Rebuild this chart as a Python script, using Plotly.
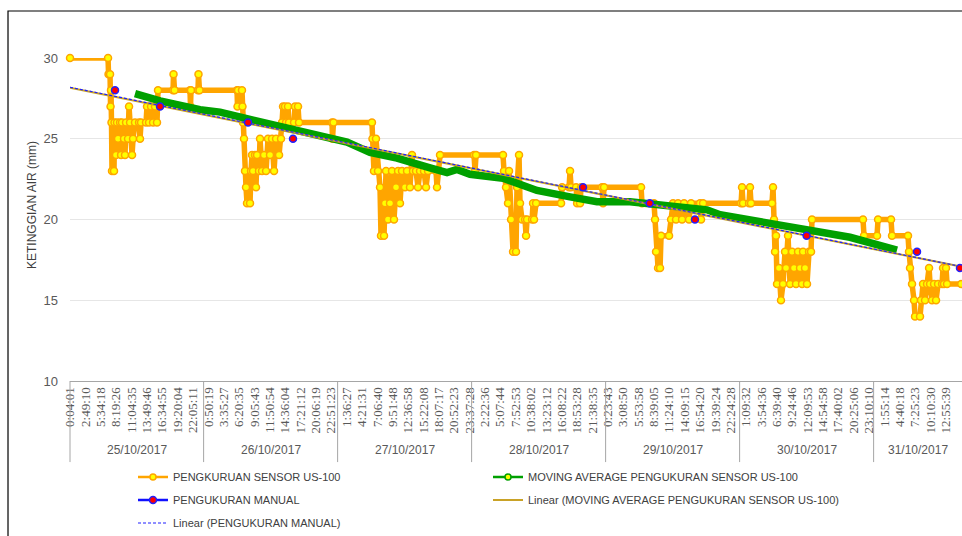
import plotly.graph_objects as go
import numpy as np

# ---------------- data ----------------
day_labels = ["25/10/2017", "26/10/2017", "27/10/2017", "28/10/2017",
              "29/10/2017", "30/10/2017", "31/10/2017"]

time_ticks = [
    ["0:04:01", "2:49:10", "5:34:18", "8:19:26", "11:04:35", "13:49:46", "16:34:55", "19:20:04", "22:05:11"],
    ["0:50:19", "3:35:27", "6:20:35", "9:05:43", "11:50:54", "14:36:04", "17:21:12", "20:06:19", "22:51:23"],
    ["1:36:27", "4:21:31", "7:06:40", "9:51:48", "12:36:58", "15:22:08", "18:07:17", "20:52:23", "23:37:28"],
    ["2:22:36", "5:07:44", "7:52:53", "10:38:02", "13:23:12", "16:08:22", "18:53:28", "21:38:35"],
    ["0:23:43", "3:08:50", "5:53:58", "8:39:05", "11:24:10", "14:09:15", "16:54:20", "19:39:24", "22:24:28"],
    ["1:09:32", "3:54:36", "6:39:40", "9:24:46", "12:09:53", "14:54:58", "17:40:02", "20:25:06", "23:10:10"],
    ["1:55:14", "4:40:18", "7:25:23", "10:10:30", "12:55:39"],
]

# hours since 25/10/2017 00:00
axis_start_h = 0.067
axis_end_h = 159.83

sensor_hours = [
    0.07, 6.88, 6.97, 7.24, 7.33, 7.41, 7.50, 7.59, 7.95, 8.04, 8.31, 8.49, 8.67, 9.03, 9.21, 9.38,
    9.74, 9.92, 10.10, 10.46, 10.64, 10.82, 11.18, 11.36, 11.71, 12.43, 12.61, 12.79, 13.68, 13.86,
    14.22, 14.58, 14.94, 15.29, 15.65, 15.83, 18.52, 18.61, 18.79, 21.56, 21.65, 21.74, 22.99, 23.08,
    23.26, 29.98, 30.07, 30.16, 30.87, 30.96, 31.05, 31.23, 31.41, 31.59, 31.77, 32.31, 32.49, 32.67,
    32.85, 33.20, 33.38, 33.56, 33.92, 34.10, 34.46, 34.82, 35.18, 35.53, 35.89, 36.25, 36.61, 36.97,
    37.51, 37.86, 38.04, 38.22, 38.58, 38.76, 39.11, 39.29, 40.19, 40.37, 40.91, 41.09, 47.00, 47.08,
    47.26, 54.15, 54.24, 54.51, 54.87, 55.23, 55.59, 55.77, 56.31, 56.49, 56.67, 57.02, 57.38, 57.74,
    58.10, 58.46, 58.82, 59.17, 59.53, 60.07, 60.43, 60.96, 61.32, 61.50, 62.04, 62.40, 62.76, 63.47,
    63.83, 64.19, 65.62, 65.80, 66.16, 66.34, 72.43, 72.61, 72.79, 77.62, 77.80, 78.16, 78.52, 78.70,
    79.06, 79.42, 79.95, 80.13, 80.49, 80.67, 81.03, 81.57, 81.75, 81.93, 82.83, 83.00, 83.18, 83.54,
    88.02, 88.20, 89.45, 89.63, 89.81, 90.71, 90.89, 91.42, 91.60, 95.36, 95.54, 95.72, 102.35, 102.52,
    104.67, 104.85, 105.03, 105.39, 105.75, 105.93, 107.36, 107.72, 108.08, 108.61, 108.97, 109.69,
    110.05, 110.94, 111.30, 112.91, 113.09, 113.45, 120.26, 120.43, 120.61, 121.69, 121.86, 122.04,
    125.80, 125.98, 126.16, 126.34, 126.52, 126.70, 127.05, 127.41, 127.77, 128.13, 128.31, 128.67,
    129.03, 129.39, 129.74, 130.10, 130.46, 130.82, 131.18, 131.36, 131.72, 132.07, 132.43, 132.79,
    132.96, 142.10, 142.28, 144.61, 144.79, 147.12, 147.30, 150.16, 150.34, 150.52, 150.88, 151.24,
    151.42, 152.31, 152.49, 152.85, 153.21, 153.57, 153.93, 154.11, 154.46, 154.82, 155.18, 155.54,
    156.26, 156.43, 156.61, 156.97, 157.15, 159.70,
]
sensor_level = [
    30, 30, 29, 29, 27, 28, 26, 23, 23, 26, 24, 26, 25, 26, 24, 26,
    25, 24, 26, 25, 27, 26, 24, 25, 26, 26, 25, 26, 26, 27,
    26, 27, 26, 27, 26, 28, 28, 29, 28, 28, 27, 28, 28, 29,
    28, 28, 27, 28, 28, 27, 26, 25, 23, 22, 21, 21, 23, 24,
    23, 24, 22, 24, 23, 25, 23, 24, 23, 25, 24, 25, 23, 25,
    24, 25, 26, 27, 27, 26, 27, 26, 26, 27, 27, 26, 26, 25,
    26, 26, 25, 23, 25, 23, 22, 19, 19, 21, 23, 20, 21, 23,
    20, 22, 23, 21, 23, 22, 23, 22, 24, 23, 23, 22, 23, 23,
    22, 23, 23, 22, 23, 24, 24, 23, 24, 24, 23, 22, 21, 23,
    20, 18, 18, 22, 24, 21, 20, 20, 19, 20, 20, 21, 20, 21,
    21, 22, 22, 23, 22, 22, 21, 21, 22, 22, 21, 22, 22, 21,
    21, 20, 18, 17, 17, 19, 19, 20, 21, 20, 21, 20,
    21, 20, 21, 21, 20, 21, 21, 22, 21, 21, 22, 21,
    21, 22, 20, 18, 19, 16, 17, 15, 16, 18, 17, 19,
    16, 18, 17, 16, 18, 17, 16, 18, 17, 16, 18, 18,
    20, 20, 19, 19, 20, 20, 19, 19, 18, 17, 16, 15,
    14, 14, 15, 16, 15, 16, 17, 16, 15, 16, 15, 16,
    16, 17, 16, 17, 16, 16,
]

ma_hours = [11.71, 16.19, 23.36, 26.94, 32.31, 38.22, 44.31, 49.68, 53.80, 58.64, 64.55, 67.59, 69.38,
            71.71, 77.62, 83.71, 89.63, 94.46, 100.37, 109.32, 114.16, 116.49, 124.19, 130.82, 139.77, 148.19]
ma_level = [27.8, 27.35, 26.8, 26.65, 26.2, 25.7, 25.2, 24.8, 24.15, 23.8, 23.2, 22.9, 23.1,
            22.8, 22.55, 21.8, 21.4, 21.1, 21.1, 20.8, 20.6, 20.3, 19.8, 19.4, 18.9, 18.1]

manual_hours = [8.13, 16.19, 31.95, 40.01, 91.95, 103.9, 112.0, 132.0, 151.77, 159.47]
manual_level = [28, 27, 26, 25, 22, 21, 20, 19, 18, 17]

y_ticks = [10, 15, 20, 25, 30]

# ---------------- derived ----------------
def hms_to_h(s):
    h, m, sec = [int(p) for p in s.split(":")]
    return h + m / 60 + sec / 3600

tickvals, ticktext = [], []
for d, labels in enumerate(time_ticks):
    for lab in labels:
        tickvals.append(d * 24 + hms_to_h(lab))
        ticktext.append(lab)

span = axis_end_h - axis_start_h
def to_paper(h):
    return (h - axis_start_h) / span

# linear trends (least squares like Excel)
mk_m, mk_b = np.polyfit(manual_hours, manual_level, 1)
ma_m, ma_b = np.polyfit(ma_hours, ma_level, 1)
trend_x = [axis_start_h, axis_end_h]

# manual points separated (no connecting line, like gaps in Excel)
man_x, man_y = [], []
for hx, vy in zip(manual_hours, manual_level):
    man_x += [hx, None]
    man_y += [vy, None]

LEGFONT = dict(family="Liberation Sans, Arial", size=11, color="#404040")

fig = go.Figure()
fig.add_trace(go.Scatter(
    x=sensor_hours, y=sensor_level, mode="lines+markers",
    name="PENGKURUAN SENSOR US-100", showlegend=False,
    line=dict(color="#FFA500", width=5.5),
    marker=dict(symbol="circle", size=7, color="#FFFF00", line=dict(color="#FFA500", width=1.5)),
    cliponaxis=False,
))
# legend entry for sensor (thin line with yellow marker)
fig.add_trace(go.Scatter(
    x=[None], y=[None], mode="lines+markers",
    name="PENGKURUAN SENSOR US-100", legend="legend", legendrank=1,
    line=dict(color="#FFA500", width=2.5),
    marker=dict(size=6, color="#FFFF00", line=dict(color="#FFA500", width=1.5)),
))
fig.add_trace(go.Scatter(
    x=ma_hours, y=ma_level, mode="lines",
    name="MOVING AVERAGE PENGUKURAN SENSOR US-100", showlegend=False,
    line=dict(color="#00A000", width=7.5),
))
# legend entry for MA (line with yellow marker)
fig.add_trace(go.Scatter(
    x=[None], y=[None], mode="lines+markers",
    name="MOVING AVERAGE PENGUKURAN SENSOR US-100", legend="legend", legendrank=2,
    line=dict(color="#00A000", width=2.5),
    marker=dict(size=6, color="#FFFF00", line=dict(color="#00A000", width=1.5)),
))
fig.add_trace(go.Scatter(
    x=trend_x, y=[ma_m * v + ma_b for v in trend_x], mode="lines",
    name="Linear (MOVING AVERAGE PENGUKURAN SENSOR US-100)", legend="legend2", legendrank=2,
    line=dict(color="#C9A227", width=2),
))
fig.add_trace(go.Scatter(
    x=trend_x, y=[mk_m * v + mk_b for v in trend_x], mode="lines",
    name="Linear (PENGUKURAN MANUAL)", legend="legend3", legendrank=1,
    line=dict(color="#2020FF", width=1.2, dash="3px,2px"),
))
fig.add_trace(go.Scatter(
    x=man_x, y=man_y, mode="lines+markers",
    name="PENGUKURAN MANUAL", legend="legend2", legendrank=1,
    line=dict(color="#1010FF", width=2.5),
    marker=dict(size=7, color="#FF0000", line=dict(color="#2020FF", width=1.5)),
    cliponaxis=False,
))

shapes = []
# day separators below the axis
bounds = [axis_start_h] + [24 * d for d in range(1, len(day_labels))]
for b in bounds:
    px = to_paper(b)
    shapes.append(dict(type="line", xref="paper", yref="paper", x0=px, x1=px, y0=0, y1=-0.251,
                       line=dict(color="#A6A6A6", width=1)))
# outer frame
shapes.append(dict(type="rect", xref="paper", yref="paper", x0=-0.0695, x1=1.3, y0=-1, y1=1.1455,
                   line=dict(color="#000000", width=1.2), fillcolor="rgba(0,0,0,0)"))

annotations = []
for d, lab in enumerate(day_labels):
    a = max(24 * d, axis_start_h)
    b = min(24 * (d + 1), axis_end_h)
    annotations.append(dict(x=(a + b) / 2, xref="x", y=-0.214, yref="paper", text=lab,
                            xanchor="center", yanchor="middle", showarrow=False,
                            font=dict(family="Liberation Sans, Arial", size=12, color="#595959")))
annotations.append(dict(x=-0.0426, xref="paper", y=0.545, yref="paper", text="KETINGGIAN AIR (mm)",
                        xanchor="center", yanchor="middle", textangle=-90, showarrow=False,
                        font=dict(family="Liberation Sans, Arial", size=12, color="#404040")))

leg_common = dict(orientation="h", xref="container", yref="container", xanchor="left", yanchor="middle",
                  entrywidth=310, entrywidthmode="pixels", font=LEGFONT, bgcolor="rgba(0,0,0,0)",
                  itemwidth=30, tracegroupgap=0)

fig.update_layout(
    template="none",
    width=962, height=536,
    margin=dict(l=70, r=0, t=58, b=155, autoexpand=False),
    paper_bgcolor="white", plot_bgcolor="white",
    showlegend=True,
    legend=dict(x=133 / 962, y=1 - 477 / 536, **leg_common),
    legend2=dict(x=133 / 962, y=1 - 500 / 536, **leg_common),
    legend3=dict(x=133 / 962, y=1 - 523 / 536, **leg_common),
    xaxis=dict(range=[axis_start_h, axis_end_h], tickmode="array", tickvals=tickvals, ticktext=ticktext,
               tickangle=-90, tickfont=dict(family="Liberation Serif, Times New Roman", size=13, color="#595959"),
               showgrid=False, zeroline=False, showline=True, linecolor="#A6A6A6", linewidth=1,
               ticks="", automargin=False),
    yaxis=dict(range=[10, 30], tickmode="array", tickvals=y_ticks,
               tickfont=dict(family="Liberation Sans, Arial", size=13, color="#595959"),
               showgrid=True, gridcolor="#E6E6E6", gridwidth=1, zeroline=False, showline=False,
               ticks="", ticklabelstandoff=11, automargin=False),
    shapes=shapes, annotations=annotations,
)

fig.write_html("out.html", config={"responsive": False, "displayModeBar": False})
